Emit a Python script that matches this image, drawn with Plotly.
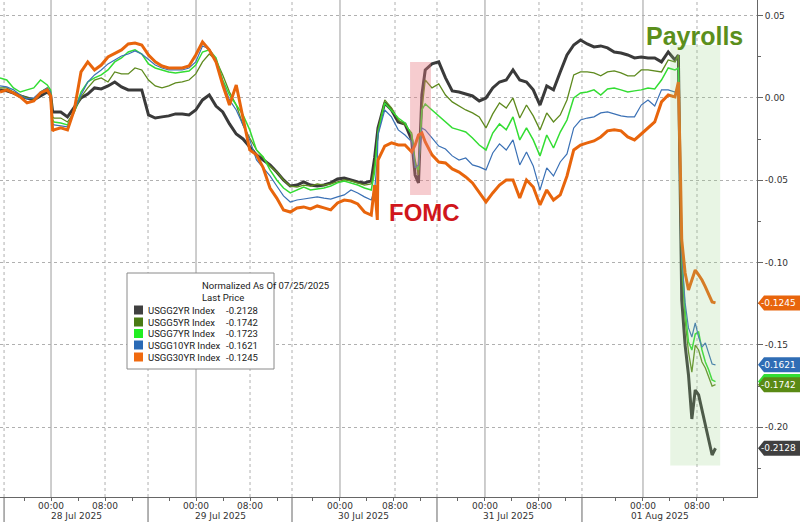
import plotly.graph_objects as go

# ---------------- data ----------------
# time axis: trading hours on a compressed session axis
hours = ([0, 1, 2, 3, 4, 5, 6, 7, 7.5, 7.8] + list(range(8, 56)) + [55.5, 55.9]
         + list(range(56, 62)) + [61.5, 62, 62.5] + list(range(63, 101))
         + [100.5, 100.8, 101, 101.5, 102, 102.5, 103, 103.5, 104, 104.5, 105, 105.5, 106])

usgg2yr = [
    0.0049, 0.0043, 0.0030, 0.0012, 0.0000, -0.0012, 0.0012, 0.0036, 0.0018, -0.0085,
    -0.0085, -0.0085, -0.0115, -0.0061, 0.0000, 0.0024, 0.0061, 0.0055, 0.0073, 0.0097, 0.0067, 0.0049,
    0.0049, 0.0049, -0.0103, -0.0122, -0.0115, -0.0109, -0.0097, -0.0097, -0.0103, -0.0073, -0.0012, 0.0018,
    -0.0049, -0.0085, -0.0158, -0.0219, -0.0249, -0.0298, -0.0346, -0.0377, -0.0407, -0.0450, -0.0498, -0.0535,
    -0.0529, -0.0510, -0.0529, -0.0535, -0.0529, -0.0516, -0.0492, -0.0486, -0.0498, -0.0510, -0.0516, -0.0504,
    -0.0365, -0.0225, -0.0182, -0.0030, -0.0073, -0.0146, -0.0158, -0.0255, -0.0468, -0.0516, 0.0018,
    0.0170, 0.0207, 0.0219, 0.0122, 0.0043, 0.0036, 0.0024, 0.0012, -0.0018, 0.0000, 0.0061, 0.0097,
    0.0109, 0.0170, 0.0109, 0.0097, 0.0049, -0.0043, 0.0073, 0.0049, 0.0158, 0.0261, 0.0322, 0.0352,
    0.0328, 0.0310, 0.0316, 0.0304, 0.0279, 0.0273, 0.0261, 0.0243, 0.0249, 0.0243, 0.0243, 0.0219, 0.0279, 0.0231,
    0.0261, -0.0680, -0.1227, -0.1501, -0.1683, -0.1950, -0.1774, -0.1804, -0.1895, -0.2005, -0.2090, -0.2169, -0.2128,
]
usgg5yr = [
    0.0061, 0.0061, 0.0036, 0.0018, 0.0000, -0.0006, 0.0036, 0.0061, 0.0036, -0.0115,
    -0.0122, -0.0122, -0.0146, -0.0085, 0.0006, 0.0061, 0.0109, 0.0122, 0.0097, 0.0158, 0.0146, 0.0146,
    0.0182, 0.0170, 0.0109, 0.0073, 0.0061, 0.0073, 0.0091, 0.0097, 0.0109, 0.0146, 0.0219, 0.0267,
    0.0231, 0.0140, 0.0036, -0.0043, -0.0164, -0.0243, -0.0316, -0.0365, -0.0413, -0.0450, -0.0498, -0.0535,
    -0.0541, -0.0529, -0.0535, -0.0522, -0.0529, -0.0522, -0.0510, -0.0498, -0.0504, -0.0516, -0.0529, -0.0522,
    -0.0407, -0.0255, -0.0194, -0.0012, -0.0061, -0.0134, -0.0164, -0.0213, -0.0377, -0.0468, -0.0073,
    0.0109, 0.0061, 0.0085, 0.0018, -0.0024, -0.0049, -0.0073, -0.0091, -0.0115, -0.0182, -0.0097, -0.0030,
    -0.0061, 0.0000, -0.0122, -0.0043, -0.0109, -0.0194, -0.0091, -0.0146, -0.0103, -0.0012, 0.0140, 0.0158,
    0.0158, 0.0152, 0.0134, 0.0158, 0.0164, 0.0152, 0.0134, 0.0134, 0.0170, 0.0170, 0.0164, 0.0158, 0.0231, 0.0219,
    0.0261, -0.0559, -0.1015, -0.1349, -0.1543, -0.1665, -0.1501, -0.1531, -0.1604, -0.1640, -0.1701, -0.1750, -0.1742,
]
usgg7yr = [
    0.0122, 0.0109, 0.0061, 0.0036, 0.0049, 0.0061, 0.0109, 0.0079, 0.0049, -0.0134,
    -0.0146, -0.0152, -0.0164, -0.0085, 0.0036, 0.0097, 0.0122, 0.0140, 0.0170, 0.0219, 0.0243, 0.0279,
    0.0292, 0.0267, 0.0207, 0.0182, 0.0170, 0.0158, 0.0152, 0.0158, 0.0164, 0.0200, 0.0279, 0.0292,
    0.0243, 0.0109, 0.0018, -0.0043, -0.0103, -0.0194, -0.0316, -0.0358, -0.0437, -0.0498, -0.0547, -0.0577,
    -0.0559, -0.0541, -0.0559, -0.0553, -0.0547, -0.0535, -0.0516, -0.0504, -0.0516, -0.0529, -0.0547, -0.0559,
    -0.0450, -0.0286, -0.0213, -0.0030, -0.0073, -0.0122, -0.0152, -0.0225, -0.0407, -0.0437, -0.0073,
    -0.0036, -0.0073, -0.0109, -0.0146, -0.0182, -0.0194, -0.0207, -0.0243, -0.0286, -0.0316, -0.0213, -0.0158,
    -0.0194, -0.0115, -0.0255, -0.0182, -0.0255, -0.0352, -0.0225, -0.0304, -0.0207, -0.0134, 0.0000, 0.0030,
    0.0036, 0.0049, 0.0018, 0.0055, 0.0061, 0.0049, 0.0036, 0.0043, 0.0049, 0.0061, 0.0055, 0.0109, 0.0182, 0.0170,
    0.0182, -0.0498, -0.0954, -0.1288, -0.1482, -0.1531, -0.1434, -0.1422, -0.1531, -0.1604, -0.1652, -0.1713, -0.1723,
]
usgg10yr = [
    0.0073, 0.0067, 0.0049, 0.0018, -0.0006, 0.0000, 0.0036, 0.0061, 0.0036, -0.0158,
    -0.0164, -0.0170, -0.0176, -0.0073, 0.0018, 0.0097, 0.0140, 0.0170, 0.0207, 0.0231, 0.0255, 0.0267,
    0.0286, 0.0267, 0.0231, 0.0200, 0.0182, 0.0170, 0.0170, 0.0170, 0.0182, 0.0219, 0.0316, 0.0298,
    0.0231, 0.0097, -0.0012, -0.0073, -0.0164, -0.0255, -0.0377, -0.0425, -0.0474, -0.0535, -0.0595, -0.0632,
    -0.0620, -0.0614, -0.0608, -0.0601, -0.0608, -0.0614, -0.0601, -0.0589, -0.0559, -0.0577, -0.0601, -0.0620,
    -0.0559, -0.0377, -0.0225, -0.0073, -0.0115, -0.0194, -0.0225, -0.0267, -0.0425, -0.0407, -0.0182,
    -0.0194, -0.0243, -0.0292, -0.0310, -0.0352, -0.0377, -0.0365, -0.0407, -0.0419, -0.0437, -0.0334, -0.0279,
    -0.0316, -0.0255, -0.0407, -0.0328, -0.0413, -0.0559, -0.0425, -0.0474, -0.0389, -0.0340, -0.0182, -0.0134,
    -0.0122, -0.0115, -0.0091, -0.0085, -0.0097, -0.0109, -0.0115, -0.0115, -0.0043, -0.0012, -0.0049, 0.0049, 0.0049, 0.0036,
    0.0067, -0.0498, -0.0954, -0.1245, -0.1397, -0.1452, -0.1367, -0.1452, -0.1513, -0.1488, -0.1549, -0.1616, -0.1621,
]
usgg30yr = [
    0.0036, 0.0049, 0.0030, 0.0006, -0.0030, -0.0018, 0.0030, 0.0049, 0.0012, -0.0200,
    -0.0194, -0.0182, -0.0194, -0.0073, 0.0158, 0.0219, 0.0170, 0.0200, 0.0249, 0.0273, 0.0292, 0.0328,
    0.0334, 0.0322, 0.0261, 0.0219, 0.0194, 0.0182, 0.0182, 0.0182, 0.0194, 0.0261, 0.0340, 0.0292,
    0.0219, 0.0079, -0.0043, 0.0079, -0.0122, -0.0316, -0.0346, -0.0425, -0.0547, -0.0608, -0.0680, -0.0693,
    -0.0668, -0.0662, -0.0674, -0.0656, -0.0668, -0.0680, -0.0638, -0.0620, -0.0626, -0.0644, -0.0693, -0.0711,
    -0.0529, -0.0741, -0.0377, -0.0292, -0.0273, -0.0286, -0.0286, -0.0328, -0.0286, -0.0225, -0.0213,
    -0.0267, -0.0346, -0.0389, -0.0395, -0.0431, -0.0450, -0.0480, -0.0516, -0.0571, -0.0632, -0.0577, -0.0529,
    -0.0498, -0.0498, -0.0608, -0.0498, -0.0541, -0.0650, -0.0559, -0.0620, -0.0589, -0.0474, -0.0316, -0.0286,
    -0.0273, -0.0261, -0.0237, -0.0200, -0.0194, -0.0200, -0.0237, -0.0255, -0.0219, -0.0182, -0.0146, -0.0024, 0.0018, 0.0006,
    0.0097, -0.0437, -0.0863, -0.1063, -0.1166, -0.1106, -0.1045, -0.1075, -0.1106, -0.1148, -0.1191, -0.1239, -0.1245,
]

series_names = ["USGG2YR Index", "USGG5YR Index", "USGG7YR Index", "USGG10YR Index", "USGG30YR Index"]
series_values = [usgg2yr, usgg5yr, usgg7yr, usgg10yr, usgg30yr]
for s in series_values:
    assert len(s) == len(hours), (len(s), len(hours))

# axis ticks (positions on the session time axis)
midnight_hours = [7.56, 29.04, 50.37, 71.85, 95.26]
eight_hours = [15.56, 37.04, 58.52, 79.85, 103.26]
session_breaks = [0.6, 21.93, 43.26, 64.74, 86.22]
date_labels = ["28 Jul 2025", "29 Jul 2025", "30 Jul 2025", "31 Jul 2025", "01 Aug 2025"]
date_label_hours = [11.3, 32.7, 53.9, 75.4, 97.8]
y_ticks = [0.05, 0.0, -0.05, -0.10, -0.15, -0.20]
y_minor = [0.025, -0.025, -0.075, -0.125, -0.175, -0.225]

# event windows
fomc_window = (60.75, 63.85, 0.0219, -0.0589)
payrolls_window = (99.3, 106.7, 0.0322, -0.2233)

# ---------------- styles ----------------
line_colors = ["#3a3a3a", "#5e8a1e", "#33dd33", "#3a70b5", "#e8650c"]
line_widths = [3, 1.3, 1.5, 1.2, 3]
swatch_colors = ["#404040", "#4a7a14", "#22ee22", "#2a6ab5", "#f06a10"]
tag_fill = ["#404040", "#5a8a14", "#33dd33", "#2f6db5", "#e8650c"]
FONT = "DejaVu Sans"
X_MAX = 112.15
Y_RANGE = [-0.2424, 0.0595]
PLOT_W, PLOT_H = 757, 497

fig = go.Figure()
for name, vals, c, w in zip(series_names, series_values, line_colors, line_widths):
    fig.add_trace(go.Scatter(x=hours, y=vals, mode="lines", name=name,
                             line=dict(color=c, width=w), showlegend=False,
                             hoverinfo="skip"))

shapes = []
# vertical grid
for m in midnight_hours:
    shapes.append(dict(type="line", xref="x", yref="paper", x0=m, x1=m, y0=0, y1=1,
                       line=dict(color="#9c9c9c", width=1), layer="below"))
for e in eight_hours + session_breaks:
    shapes.append(dict(type="line", xref="x", yref="paper", x0=e, x1=e, y0=0, y1=1,
                       line=dict(color="#b0b0b0", width=1, dash="dot"), layer="below"))
# session separators below axis
for s in session_breaks:
    shapes.append(dict(type="line", xref="x", yref="paper", x0=s, x1=s, y0=0, y1=-25 / PLOT_H,
                       line=dict(color="#666666", width=1)))
# event highlight boxes
x0, x1, y0, y1 = fomc_window
shapes.append(dict(type="rect", xref="x", yref="y", x0=x0, x1=x1, y0=y0, y1=y1,
                   fillcolor="rgba(232,120,128,0.38)", line=dict(width=0), layer="above"))
x0, x1, y0, y1 = payrolls_window
shapes.append(dict(type="rect", xref="x", yref="y", x0=x0, x1=x1, y0=y0, y1=y1,
                   fillcolor="rgba(150,210,130,0.22)", line=dict(width=0), layer="above"))

annotations = []
for lab, h in zip(date_labels, date_label_hours):
    annotations.append(dict(text=lab, x=h, xref="x", y=-19 / PLOT_H, yref="paper",
                            showarrow=False, xanchor="center", yanchor="middle",
                            font=dict(family=FONT, size=9, color="#333333")))
annotations.append(dict(text="<b>FOMC</b>", x=62.96, y=-0.0693, xref="x", yref="y",
                        showarrow=False, font=dict(family="Liberation Sans", size=24, color="#d0161b")))
annotations.append(dict(text="<b>Payrolls</b>", x=102.96, y=0.0377, xref="x", yref="y",
                        showarrow=False, font=dict(family="Liberation Sans", size=25, color="#5b8f1c")))

# legend box (paper coords from pixel layout)
def px(xp):
    return xp / PLOT_W

def py(yp):
    return 1 - yp / PLOT_H

LEG_FONT = dict(family="Roboto", size=9.5, color="#1a1a1a")
shapes.append(dict(type="rect", xref="paper", yref="paper", x0=px(127), x1=px(274),
                   y0=py(369), y1=py(273), fillcolor="white",
                   line=dict(color="#8a8a8a", width=1), layer="above"))
annotations.append(dict(text="Normalized As Of 07/25/2025", x=px(200), y=py(285), xref="paper", yref="paper",
                        showarrow=False, yanchor="middle", font=LEG_FONT))
annotations.append(dict(text="Last Price", x=px(200), y=py(297), xref="paper", yref="paper",
                        showarrow=False, yanchor="middle", font=LEG_FONT))
row_y = [310, 322, 333.5, 345, 357]
for name, vals, c, ry in zip(series_names, series_values, swatch_colors, row_y):
    shapes.append(dict(type="rect", xref="paper", yref="paper", x0=px(134), x1=px(143),
                       y0=py(ry + 4.5), y1=py(ry - 4.5), fillcolor=c, line=dict(width=0), layer="above"))
    annotations.append(dict(text=name, x=px(146), y=py(ry), xref="paper", yref="paper", xanchor="left",
                            yanchor="middle", showarrow=False, font=LEG_FONT))
    annotations.append(dict(text=f"{vals[-1]:.4f}", x=px(260), y=py(ry), xref="paper", yref="paper",
                            xanchor="right", yanchor="middle", showarrow=False, font=LEG_FONT))

# last-value tags on the right axis (7YR first so the 5YR tag sits on top)
tag_order = [2, 4, 3, 1, 0]
for i in tag_order:
    v = series_values[i][-1]
    shapes.append(dict(type="path", xref="paper", yref="y", xsizemode="pixel", ysizemode="pixel",
                       xanchor=1, yanchor=v,
                       path="M 1 0 L 7 7.5 L 43 7.5 L 43 -7.5 L 7 -7.5 Z",
                       fillcolor=tag_fill[i], line=dict(width=0), layer="above"))
    if i != 2:
        annotations.append(dict(text=f"{v:.4f}", x=px(779), y=v, xref="paper", yref="y",
                                showarrow=False, xanchor="center", yanchor="middle",
                                font=dict(family=FONT, size=9, color="white")))

minor_x = [m + k for m in midnight_hours for k in (-4, 0, 4, 8, 12)]

fig.update_layout(
    width=800, height=522,
    margin=dict(l=0, r=43, t=0, b=25),
    paper_bgcolor="white", plot_bgcolor="white",
    showlegend=False,
    shapes=shapes, annotations=annotations,
    xaxis=dict(range=[0, X_MAX], tickmode="array",
               tickvals=midnight_hours + eight_hours,
               ticktext=["00:00"] * len(midnight_hours) + ["08:00"] * len(eight_hours),
               showgrid=False, zeroline=False, showline=True, linecolor="#666666",
               ticks="", tickfont=dict(family=FONT, size=9, color="#333333"),
               minor=dict(tickmode="array", tickvals=minor_x, ticks="outside", ticklen=3,
                          tickcolor="#666666", showgrid=False)),
    yaxis=dict(side="right", range=Y_RANGE, tickmode="array", tickvals=y_ticks,
               ticktext=[f"{t:.2f}" for t in y_ticks],
               showgrid=True, gridcolor="#b0b0b0", griddash="dot", gridwidth=1,
               zeroline=False, showline=True, linecolor="#666666",
               ticks="outside", ticklen=5, tickcolor="#666666",
               tickfont=dict(family=FONT, size=9, color="#333333"),
               minor=dict(tickmode="array", tickvals=y_minor, ticks="outside", ticklen=3,
                          tickcolor="#666666", showgrid=False)),
)

fig.write_html("out.html", config={"displayModeBar": False},
               post_script="document.body.style.margin='0';")
